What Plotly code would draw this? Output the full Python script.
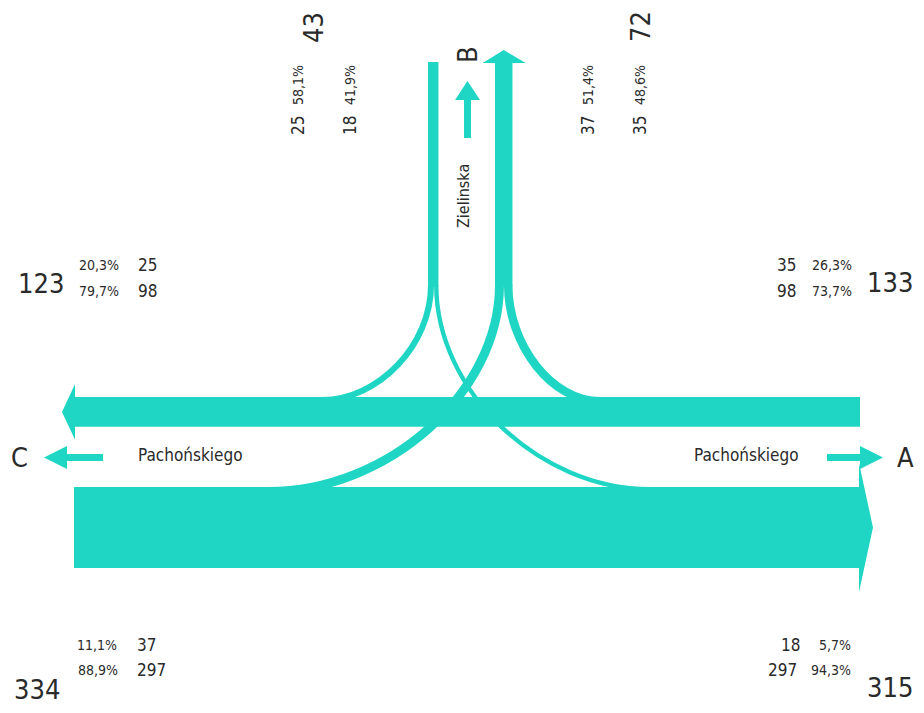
import plotly.graph_objects as go

# ---------------- data (vehicles per movement) ----------------
movement_from = ["A", "A", "B", "B", "C", "C"]
movement_to = ["B", "C", "C", "A", "B", "A"]
movement_veh = [35, 98, 25, 18, 37, 297]
approach_labels = ["A", "B", "C"]
street_main = "Pachońskiego"
street_side = "Zielinska"

# ---------------- derived values ----------------
flow = {(f, t): v for f, t, v in zip(movement_from, movement_to, movement_veh)}
inbound = {a: sum(v for (f, t), v in flow.items() if f == a) for a in approach_labels}
outbound = {a: sum(v for (f, t), v in flow.items() if t == a) for a in approach_labels}


def pct(v, tot):
    return f"{100.0 * v / tot:.1f}".replace(".", ",") + "%"


# ---------------- style / layout constants ----------------
W, H = 924, 713
OFF = 8               # page body margin
K = 0.2425            # px per vehicle
COL = "#1fd6c4"
TXT = "#2a2a2a"
FONT = "Liberation Sans Narrow, DejaVu Sans Condensed, Arial Narrow, sans-serif"

X_LEFT, X_RIGHT = 74, 860
UP_TOP = 397                 # band towards C
LOW_TOP = 487                # band towards A
LANE_IN_X = 428              # lane coming from B
LANE_OUT_X = 495             # lane going to B
LANE_TOP = 62
SPLIT_Y = 285

up_w = outbound["C"] * K
low_w = inbound["C"] * K
lane_in_w = inbound["B"] * K
lane_out_w = outbound["B"] * K

shapes = []


def poly(points, color=COL):
    d = "M " + " L ".join(f"{x:.2f},{y:.2f}" for x, y in points) + " Z"
    shapes.append(dict(type="path", path=d, xref="x", yref="y",
                       fillcolor=color, line=dict(width=0), layer="above"))


def rect(x0, y0, x1, y1):
    poly([(x0, y0), (x1, y0), (x1, y1), (x0, y1)])


def curve(x0, y0, x3, y3, width, c=0.52):
    p1 = (x0, y0 + c * (y3 - y0))
    p2 = (x3 + c * (x0 - x3), y3)
    d = (f"M {x0:.2f},{y0:.2f} C {p1[0]:.2f},{p1[1]:.2f} "
         f"{p2[0]:.2f},{p2[1]:.2f} {x3:.2f},{y3:.2f}")
    shapes.append(dict(type="path", path=d, xref="x", yref="y",
                       line=dict(color=COL, width=width), layer="above"))


# main bands
rect(X_LEFT, UP_TOP, X_RIGHT, UP_TOP + up_w)
poly([(X_LEFT + 1, UP_TOP - 13), (62, UP_TOP + up_w / 2), (X_LEFT + 1, UP_TOP + up_w + 13)])
rect(X_LEFT, LOW_TOP, X_RIGHT, LOW_TOP + low_w)
poly([(X_RIGHT - 1, LOW_TOP - 24), (873, LOW_TOP + low_w / 2), (X_RIGHT - 1, LOW_TOP + low_w + 24)])

# side-road lanes
rect(LANE_IN_X, LANE_TOP, LANE_IN_X + lane_in_w, SPLIT_Y + 1)
rect(LANE_OUT_X, LANE_TOP + 1, LANE_OUT_X + lane_out_w, SPLIT_Y + 1)
cx = LANE_OUT_X + lane_out_w / 2
poly([(cx - 21, LANE_TOP + 1), (cx, 50), (cx + 22, LANE_TOP + 1)])

# turning movements
w = flow[("B", "C")] * K
curve(LANE_IN_X + w / 2, SPLIT_Y, 322, UP_TOP + w / 2, w)
w2 = flow[("B", "A")] * K
curve(LANE_IN_X + w + w2 / 2, SPLIT_Y, 650, LOW_TOP + w2 / 2, w2)
w = flow[("C", "B")] * K
curve(LANE_OUT_X + w / 2, SPLIT_Y, 268, LOW_TOP + w / 2, w)
w2 = flow[("A", "B")] * K
curve(LANE_OUT_X + w + w2 / 2, SPLIT_Y, 600, UP_TOP + w2 / 2, w2)

# direction arrows
rect(66, 454, 103, 461)
poly([(67, 446), (44, 457.5), (67, 469)])
rect(827, 454, 861, 461)
poly([(860, 446), (883, 457.5), (860, 469)])
rect(464, 99, 471, 138)
poly([(455, 100), (467.5, 81), (480, 100)])

# ---------------- texts ----------------
ann = []


def txt(x, y, s, size, angle=0, xanchor="center"):
    ann.append(dict(x=x, y=y, xref="x", yref="y", text=s, showarrow=False,
                    textangle=angle, xanchor=xanchor, yanchor="middle",
                    font=dict(family=FONT, size=size, color=TXT)))


BIG, MID, SMALL = 27, 17, 14

# approach letters and street names
txt(19, 457, approach_labels[2], BIG)
txt(905, 457, approach_labels[0], BIG)
txt(467, 55, approach_labels[1], BIG, -90)
txt(190, 455, street_main, MID)
txt(746, 455, street_main, MID)
txt(463, 196, street_side, 16, -90)

# C side (exit to C, top left)
txt(41, 283, str(outbound["C"]), BIG)
txt(99, 265, pct(flow[("B", "C")], outbound["C"]), SMALL)
txt(147, 265, str(flow[("B", "C")]), MID)
txt(99, 291, pct(flow[("A", "C")], outbound["C"]), SMALL)
txt(147, 291, str(flow[("A", "C")]), MID)

# A side (inbound from A, top right)
txt(915, 282, str(inbound["A"]), BIG, xanchor="right")
txt(786, 265, str(flow[("A", "B")]), MID)
txt(832, 265, pct(flow[("A", "B")], inbound["A"]), SMALL)
txt(786, 291, str(flow[("A", "C")]), MID)
txt(832, 291, pct(flow[("A", "C")], inbound["A"]), SMALL)

# C side (inbound from C, bottom left)
txt(37, 689, str(inbound["C"]), BIG)
txt(97, 645, pct(flow[("C", "B")], inbound["C"]), SMALL)
txt(146, 645, str(flow[("C", "B")]), MID)
txt(98, 670, pct(flow[("C", "A")], inbound["C"]), SMALL)
txt(151, 670, str(flow[("C", "A")]), MID)

# A side (exit to A, bottom right)
txt(915, 687, str(outbound["A"]), BIG, xanchor="right")
txt(790, 645, str(flow[("B", "A")]), MID)
txt(835, 645, pct(flow[("B", "A")], outbound["A"]), SMALL)
txt(782, 670, str(flow[("C", "A")]), MID)
txt(831, 670, pct(flow[("C", "A")], outbound["A"]), SMALL)

# B side (rotated)
txt(313, 28, str(inbound["B"]), BIG, -90)
txt(298, 126, str(flow[("B", "C")]), MID, -90)
txt(298, 85, pct(flow[("B", "C")], inbound["B"]), SMALL, -90)
txt(350, 126, str(flow[("B", "A")]), MID, -90)
txt(350, 85, pct(flow[("B", "A")], inbound["B"]), SMALL, -90)
txt(640, 27, str(outbound["B"]), BIG, -90)
txt(588, 126, str(flow[("C", "B")]), MID, -90)
txt(588, 85, pct(flow[("C", "B")], outbound["B"]), SMALL, -90)
txt(640, 126, str(flow[("A", "B")]), MID, -90)
txt(640, 85, pct(flow[("A", "B")], outbound["B"]), SMALL, -90)

FW, FH = W - 2 * OFF, H - 2 * OFF
fig = go.Figure()
fig.add_trace(go.Scatter(x=[OFF, W - OFF], y=[OFF, H - OFF], mode="markers",
                         marker=dict(opacity=0), hoverinfo="skip", showlegend=False))
fig.update_layout(
    width=FW, height=FH, margin=dict(l=0, r=0, t=0, b=0),
    paper_bgcolor="white", plot_bgcolor="white",
    xaxis=dict(range=[OFF, OFF + FW], visible=False, fixedrange=True),
    yaxis=dict(range=[OFF + FH, OFF], visible=False, fixedrange=True),
    shapes=shapes, annotations=ann, showlegend=False,
)
fig.write_html("out.html", config={"displayModeBar": False})
